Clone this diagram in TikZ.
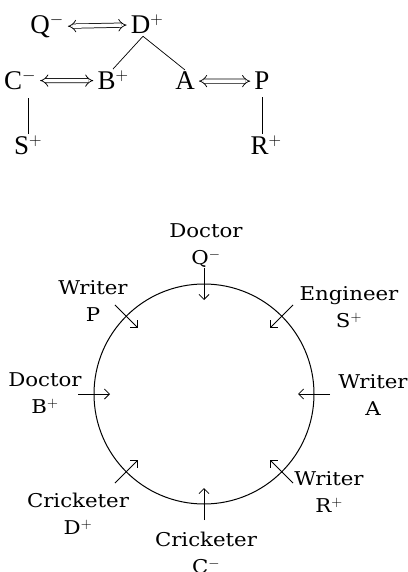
\documentclass[tikz,border=0pt]{standalone}
\usepackage{amsmath}
\usepackage{amssymb}
\usepackage{fontspec}
\setmainfont{Liberation Serif}
\newfontfamily\ringfont[FakeStretch=1.12]{DejaVu Serif}
\usetikzlibrary{arrows.meta}

\begin{document}
\begin{tikzpicture}[x=1pt,y=1pt,
  letter/.style={font=\fontsize{27}{30}\selectfont, inner sep=2pt, anchor=base},
  job/.style={font=\ringfont\fontsize{19}{27}\selectfont, align=center, inner sep=0pt},
  swap/.style={double, double distance=3.6pt, line width=0.75pt, {Implies}-{Implies}, shorten <=2pt, shorten >=2pt},
  pointer/.style={line width=0.75pt, -{Straight Barb[length=5pt,width=10pt]}}]
\useasboundingbox (0,0) rectangle (407,-572);
% who sits opposite whom
\node [letter] (q) at (47,-34) {Q$^{-}$};
\node [letter] (d) at (147,-34) {D$^{+}$};
\node [letter] (c) at (20,-90) {C$^{-}$};
\node [letter] (b) at (113,-90) {B$^{+}$};
\node [letter] (a) at (185,-90) {A};
\node [letter] (p) at (262,-90) {P};
\node [letter] (s) at (28,-155) {S$^{+}$};
\node [letter] (r) at (266,-155) {R$^{+}$};
\draw [swap] (q) -- (d);
\draw [swap] (c) -- (b);
\draw [swap] (a) -- (p);
\draw [line width=0.7pt] ([xshift=-4pt]d.south) -- (b.north);
\draw [line width=0.7pt] ([xshift=-4pt]d.south) -- (a.north);
\draw [line width=0.7pt, shorten >=6pt] (s.north) -- (s.north |- c.south);
\draw [line width=0.7pt, shorten <=5pt] (p.south) -- (p.south |- r.north);
% round table
\node [circle, draw, line width=1pt, minimum size=220pt, inner sep=0pt] (ring) at (204,-394) {};
\node [circle, minimum size=252pt, inner sep=0pt, outer sep=0pt] (outer) at (ring) {};
\node [circle, minimum size=188pt, inner sep=0pt, outer sep=0pt] (inner) at (ring) {};
\node [job] (dq) at (206,-246) {Doctor\\Q$^{-}$};
\node [job] (wp) at (93,-301) {Writer\\P};
\node [job] (es) at (349,-307) {Engineer\\S$^{+}$};
\node [job] (db) at (45,-393) {Doctor\\B$^{+}$};
\node [job] (wa) at (373,-395) {Writer\\A};
\node [job] (wr) at (329,-492) {Writer\\R$^{+}$};
\node [job] (cd) at (78,-514) {Cricketer\\D$^{+}$};
\node [job] (cc) at (206,-553) {Cricketer\\C$^{-}$};
\draw [pointer] (outer.north) -- (inner.north);
\draw [pointer] (outer.north west) -- (inner.north west);
\draw [pointer] (outer.north east) -- (inner.north east);
\draw [pointer] (outer.west) -- (inner.west);
\draw [pointer] (outer.east) -- (inner.east);
\draw [pointer] (outer.south west) -- (inner.south west);
\draw [pointer] (outer.south east) -- (inner.south east);
\draw [pointer] (outer.south) -- (inner.south);
\end{tikzpicture}
\end{document}
